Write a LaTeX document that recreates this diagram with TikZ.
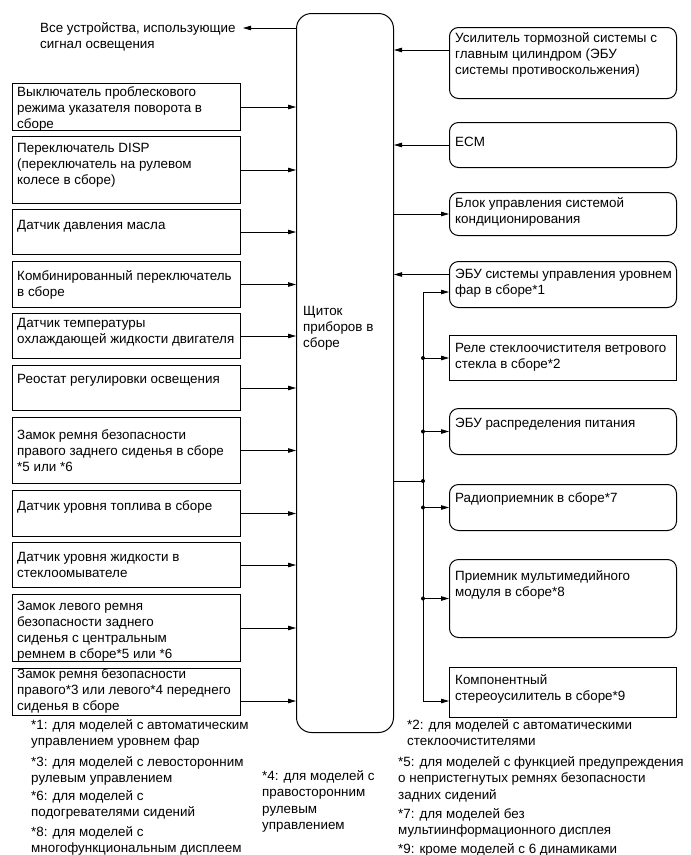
\documentclass[tikz,border=0pt]{standalone}
\usepackage{fontspec}
\setmainfont{Liberation Sans}
\usetikzlibrary{arrows.meta,calc}
\begin{document}
\begin{tikzpicture}[x=1pt,y=-1pt,
  box/.style={draw,line width=1pt,inner sep=0pt,anchor=north west},
  rbox/.style={box,rounded corners=9pt},
  lbl/.style={anchor=north west,inner sep=0pt,align=left,font=\fontsize{13.4}{16}\selectfont},
  fn/.style={anchor=north west,inner sep=0pt,align=left,font=\fontsize{13.4}{16.5}\selectfont},
  arr/.style={line width=0.8pt,-{Triangle[length=8pt,width=4.5pt]}},
  ln/.style={line width=0.8pt},
  dot/.style={circle,fill,inner sep=0pt,minimum size=4pt}
]
\fill[white] (0,0) rectangle (691,855);
\useasboundingbox (0,0) rectangle (691,855);

% central
\node[box,rounded corners=15pt,minimum width=97pt,minimum height=719pt] (c) at (296,13) {};
\node[lbl] (clbl) at (303,304.3) {\strut Щиток\\приборов в\\сборе};

% top-left target
\node[lbl] (all) at (40,21.3) {\strut Все устройства, использующие\\сигнал освещения};
\coordinate (allpt) at (243,28);
\draw[arr] (allpt -| c.west) -- (allpt);

% left boxes
\node[box,minimum width=228pt,minimum height=47pt] (b1) at (12,83) {};
\node[lbl] at (17,85.3) {\strut Выключатель проблескового\\режима указателя поворота в\\сборе};
\node[box,minimum width=228pt,minimum height=67pt] (b2) at (12,136) {};
\node[lbl] at (17,141.3) {\strut Переключатель DISP\\(переключатель на рулевом\\колесе в сборе)};
\node[box,minimum width=228pt,minimum height=45pt] (b3) at (12,209) {};
\node[lbl] at (17,218.3) {\strut Датчик давления масла};
\node[box,minimum width=228pt,minimum height=46pt] (b4) at (12,261) {};
\node[lbl] at (17,269.3) {\strut Комбинированный переключатель\\в сборе};
\node[box,minimum width=228pt,minimum height=45pt] (b5) at (12,313) {};
\node[lbl] at (17,316.3) {\strut Датчик температуры\\охлаждающей жидкости двигателя};
\node[box,minimum width=228pt,minimum height=45pt] (b6) at (12,365) {};
\node[lbl] at (17,372.3) {\strut Реостат регулировки освещения};
\node[box,minimum width=228pt,minimum height=66pt] (b7) at (12,417) {};
\node[lbl] at (17,428.3) {\strut Замок ремня безопасности\\правого заднего сиденья в сборе\\*5 или *6};
\node[box,minimum width=228pt,minimum height=46pt] (b8) at (12,490) {};
\node[lbl] at (17,499.3) {\strut Датчик уровня топлива в сборе};
\node[box,minimum width=228pt,minimum height=45pt] (b9) at (12,542) {};
\node[lbl] at (17,550.3) {\strut Датчик уровня жидкости в\\стеклоомывателе};
\node[box,minimum width=228pt,minimum height=67pt] (b10) at (12,594) {};
\node[lbl] at (17,599.3) {\strut Замок левого ремня\\безопасности заднего\\сиденья с центральным\\ремнем в сборе*5 или *6};
\node[box,minimum width=228pt,minimum height=47pt] (b11) at (12,668) {};
\node[lbl] at (17,667.3) {\strut Замок ремня безопасности\\правого*3 или левого*4 переднего\\сиденья в сборе};

\foreach \b in {b1,b2,b3,b4,b5,b6,b7,b8,b9,b10}
  \draw[arr] (\b.east) -- (\b.east -| c.west);
\draw[arr] ([yshift=-9pt]b11.east) -- ([yshift=-9pt]b11.east -| c.west);

% right boxes
\node[rbox,minimum width=227pt,minimum height=71pt] (r1) at (449,27) {};
\node[lbl] at (455,31.3) {\strut Усилитель тормозной системы с\\главным цилиндром (ЭБУ\\системы противоскольжения)};
\node[rbox,minimum width=227pt,minimum height=45pt] (r2) at (449,122) {};
\node[lbl] at (455,135.3) {\strut ECM};
\node[rbox,minimum width=227pt,minimum height=43pt] (r3) at (449,192) {};
\node[lbl] at (455,196.3) {\strut Блок управления системой\\кондиционирования};
\node[rbox,minimum width=227pt,minimum height=46pt] (r4) at (449,261) {};
\node[lbl] at (455,267.3) {\strut ЭБУ системы управления уровнем\\фар в сборе*1};
\node[box,minimum width=227pt,minimum height=45pt] (r5) at (449,335) {};
\node[lbl] at (455,341.3) {\strut Реле стеклоочистителя ветрового\\стекла в сборе*2};
\node[rbox,minimum width=227pt,minimum height=46pt] (r6) at (449,408) {};
\node[lbl] at (455,416.3) {\strut ЭБУ распределения питания};
\node[rbox,minimum width=227pt,minimum height=46pt] (r7) at (449,484) {};
\node[lbl] at (455,491.3) {\strut Радиоприемник в сборе*7};
\node[rbox,minimum width=227pt,minimum height=78pt] (r8) at (449,559) {};
\node[lbl] at (455,569.3) {\strut Приемник мультимедийного\\модуля в сборе*8};
\node[box,minimum width=227pt,minimum height=50pt] (r9) at (449,667) {};
\node[lbl] at (455,673.3) {\strut Компонентный\\стереоусилитель в сборе*9};

\draw[arr] ([yshift=13pt]r1.west) -- ([yshift=13pt]r1.west -| c.east);
\draw[arr] (r2.west) -- (r2.west -| c.east);
\draw[arr] (r3.west -| c.east) -- (r3.west);
\draw[arr] ([yshift=10pt]r4.west) -- ([yshift=10pt]r4.west -| c.east);

% bus
\coordinate (bt) at (423,292);
\coordinate (bb) at (423,701);
\coordinate (bj) at (423,481);
\draw[ln] (bt) -- (bb);
\draw[ln] (bj -| c.east) -- (bj);
\node[dot] at (bj) {};
\draw[arr] (bt) -- (bt -| r4.west);
\foreach \r in {r5,r6,r7,r8}{
  \draw[arr] (\r.west -| bt) -- (\r.west);
  \node[dot] at (\r.west -| bt) {};
}
\draw[arr] (bb) -- (bb -| r9.west);

% footnotes
\node[fn] at (31,717.3) {\strut *1: для моделей с автоматическим\\управлением уровнем фар};
\node[fn] at (31,754.3) {\strut *3: для моделей с левосторонним\\рулевым управлением};
\node[fn] at (31,788.3) {\strut *6: для моделей с\\подогревателями сидений};
\node[fn] at (31,824.3) {\strut *8: для моделей с\\многофункциональным дисплеем};
\node[fn] at (262,768.3) {\strut *4: для моделей с\\правосторонним\\рулевым\\управлением};
\node[fn] at (407,717.3) {\strut *2: для моделей с автоматическими\\стеклоочистителями};
\node[fn] at (398,754.3) {\strut *5: для моделей с функцией предупреждения\\о непристегнутых ремнях безопасности\\задних сидений};
\node[fn] at (398,806.3) {\strut *7: для моделей без\\мультиинформационного дисплея};
\node[fn] at (398,841.3) {\strut *9: кроме моделей с 6 динамиками};
\end{tikzpicture}
\end{document}
